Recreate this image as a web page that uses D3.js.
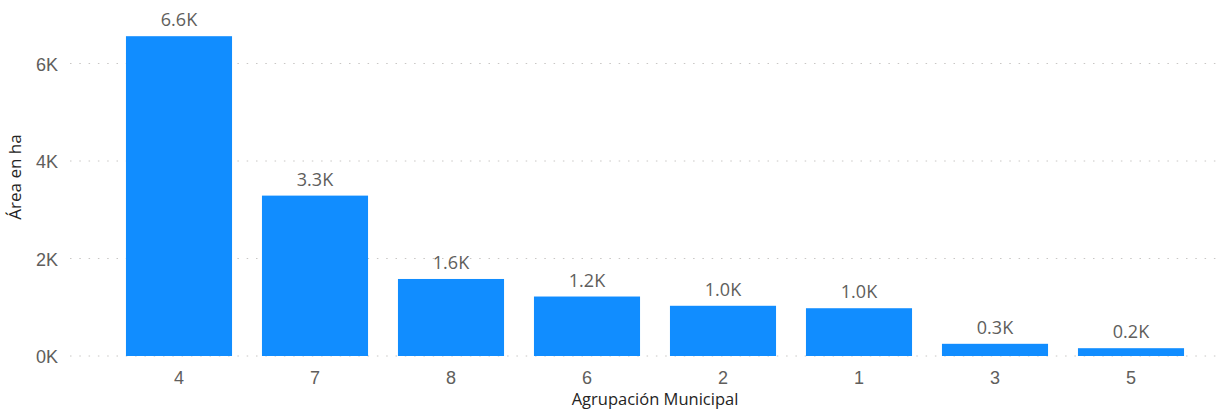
<!DOCTYPE html>
<html>
<head>
<meta charset="utf-8">
<script src="https://cdn.jsdelivr.net/npm/d3@7"></script>
<style>
  html, body { margin: 0; padding: 0; background: #fff; }
  svg { display: block; font-family: "Open Sans", "Noto Sans", sans-serif; }
</style>
</head>
<body>
<svg id="chart" width="1230" height="417"></svg>
<script>
// Área (ha) por agrupación municipal, ordenado de mayor a menor
const categories = ["4", "7", "8", "6", "2", "1", "3", "5"];
const areaHa = [6560, 3290, 1580, 1220, 1030, 980, 250, 160];
const yTicks = [0, 2000, 4000, 6000];
const yTickLabels = ["0K", "2K", "4K", "6K"];

const svg = d3.select("#chart");
const plot = { left: 70, right: 1220, top: 20, bottom: 356 };

const x = d3.scaleBand()
  .domain(categories)
  .range([111, 1199])
  .paddingInner(0.22)
  .paddingOuter(0.11);

const y = d3.scaleLinear()
  .domain([0, 6000])
  .range([plot.bottom, 63.5]);

// dotted horizontal gridlines
svg.append("g")
  .selectAll("line")
  .data(yTicks)
  .join("line")
  .attr("x1", plot.left)
  .attr("x2", plot.right)
  .attr("y1", d => y(d))
  .attr("y2", d => y(d))
  .attr("stroke", "#c8c6c4")
  .attr("stroke-width", 1)
  .attr("stroke-dasharray", "1.5,7.8");

// y axis tick labels
const yAxis = d3.axisLeft(y)
  .tickValues(yTicks)
  .tickFormat((d, i) => yTickLabels[i])
  .tickSize(0)
  .tickPadding(0);
const gy = svg.append("g")
  .attr("transform", "translate(58,1)")
  .call(yAxis);
gy.select(".domain").remove();
gy.selectAll("text")
  .attr("fill", "#605e5c")
  .attr("font-size", 18)
  .attr("font-family", "inherit");

// bars
svg.append("g")
  .selectAll("rect")
  .data(categories)
  .join("rect")
  .attr("x", d => x(d))
  .attr("width", x.bandwidth())
  .attr("y", (d, i) => y(areaHa[i]))
  .attr("height", (d, i) => y(0) - y(areaHa[i]))
  .attr("fill", "#118dff");

// data labels
const fmtK = v => (v / 1000).toFixed(1) + "K";
svg.append("g")
  .selectAll("text")
  .data(categories)
  .join("text")
  .attr("x", d => x(d) + x.bandwidth() / 2)
  .attr("y", (d, i) => y(areaHa[i]) - 10)
  .attr("text-anchor", "middle")
  .attr("fill", "#605e5c")
  .attr("font-size", 18)
  .text((d, i) => fmtK(areaHa[i]));

// x axis category labels
const xAxis = d3.axisBottom(x).tickSize(0).tickPadding(0);
const gx = svg.append("g")
  .attr("transform", `translate(0,${plot.bottom + 15})`)
  .call(xAxis);
gx.select(".domain").remove();
gx.selectAll("text")
  .attr("fill", "#605e5c")
  .attr("font-size", 18)
  .attr("font-family", "inherit");

// axis titles
svg.append("text")
  .attr("x", (x.range()[0] + x.range()[1]) / 2)
  .attr("y", 405)
  .attr("text-anchor", "middle")
  .attr("fill", "#252423")
  .attr("font-size", 16.5)
  .text("Agrupación Municipal");

svg.append("text")
  .attr("transform", `translate(21,177) rotate(-90)`)
  .attr("text-anchor", "middle")
  .attr("fill", "#252423")
  .attr("font-size", 17)
  .text("Área en ha");
</script>
</body>
</html>
